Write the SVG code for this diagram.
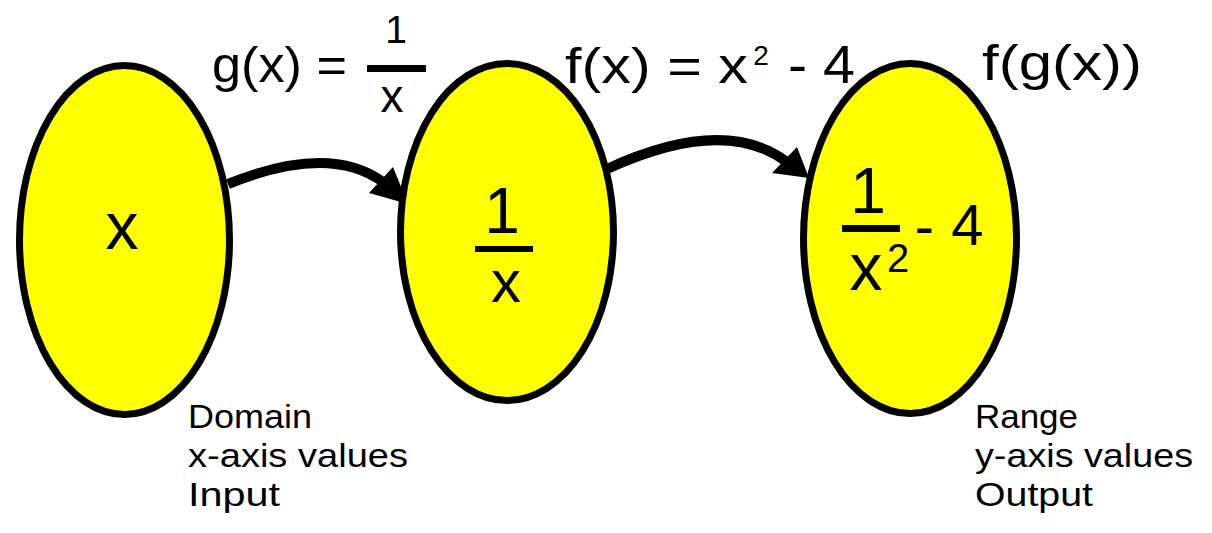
<svg xmlns="http://www.w3.org/2000/svg" width="1212" height="533" viewBox="0 0 1212 533">
<style>
.node{fill:#ffff00;stroke:#000;stroke-width:7}
.t{font-family:"Liberation Sans",Arial,sans-serif;fill:#000}
.lbl{font-size:34px}
.bar{fill:#000}
.conn{fill:none;stroke:#000;stroke-width:10}
.head{fill:#000}
</style>
<rect width="1212" height="533" fill="#fff"/>
<g id="connectors">
<path class="conn" d="M228,184 Q329,143 383,182"/>
<polygon class="head" points="408,204 393,167 369,193"/>
<path class="conn" d="M607,169 Q724,115 787,162"/>
<polygon class="head" points="809,178 797,147 772,173"/>
</g>
<g id="node-domain">
<ellipse class="node" cx="124.5" cy="240" rx="105" ry="174.5"/>
<text class="t" x="122" y="249" font-size="66" text-anchor="middle">x</text>
<text class="t lbl"><tspan x="188" y="428" textLength="124" lengthAdjust="spacingAndGlyphs">Domain</tspan><tspan x="188" y="467" textLength="220" lengthAdjust="spacingAndGlyphs">x-axis values</tspan><tspan x="188" y="506" textLength="92" lengthAdjust="spacingAndGlyphs">Input</tspan></text>
</g>
<g id="node-middle">
<ellipse class="node" cx="507" cy="232" rx="106.5" ry="168.5"/>
<rect class="bar" x="475" y="246" width="58" height="6"/>
<text class="t" text-anchor="middle"><tspan x="502" y="233" font-size="64">1</tspan><tspan x="506" y="302" font-size="60">x</tspan></text>
</g>
<g id="node-range">
<ellipse class="node" cx="910" cy="238.5" rx="106.5" ry="175"/>
<rect class="bar" x="842" y="225" width="58" height="7"/>
<text class="t" text-anchor="middle"><tspan x="868" y="213" font-size="64">1</tspan><tspan x="866" y="290" font-size="66">x</tspan><tspan x="898" y="272" font-size="40">2</tspan><tspan x="924.5" y="246" font-size="58">-</tspan><tspan x="967.5" y="245" font-size="58">4</tspan></text>
<text class="t lbl"><tspan x="975" y="428" textLength="103" lengthAdjust="spacingAndGlyphs">Range</tspan><tspan x="975" y="467" textLength="218" lengthAdjust="spacingAndGlyphs">y-axis values</tspan><tspan x="975" y="506" textLength="118" lengthAdjust="spacingAndGlyphs">Output</tspan></text>
</g>
<g id="label-g">
<rect class="bar" x="367" y="65" width="59" height="7"/>
<text class="t" font-size="50"><tspan x="212" y="82" textLength="135" lengthAdjust="spacingAndGlyphs">g(x) =</tspan><tspan x="396" y="43" font-size="39" text-anchor="middle">1</tspan><tspan x="392" y="112" font-size="46" text-anchor="middle">x</tspan></text>
</g>
<g id="label-f">
<text class="t" font-size="50"><tspan x="565" y="83" textLength="183" lengthAdjust="spacingAndGlyphs">f(x) = x</tspan><tspan x="761" y="65" font-size="28" text-anchor="middle">2</tspan><tspan x="788" y="83" font-size="54" textLength="67" lengthAdjust="spacingAndGlyphs">- 4</tspan></text>
</g>
<g id="label-fg">
<text class="t" x="982" y="80" font-size="50" textLength="160" lengthAdjust="spacingAndGlyphs">f(g(x))</text>
</g>
</svg>
